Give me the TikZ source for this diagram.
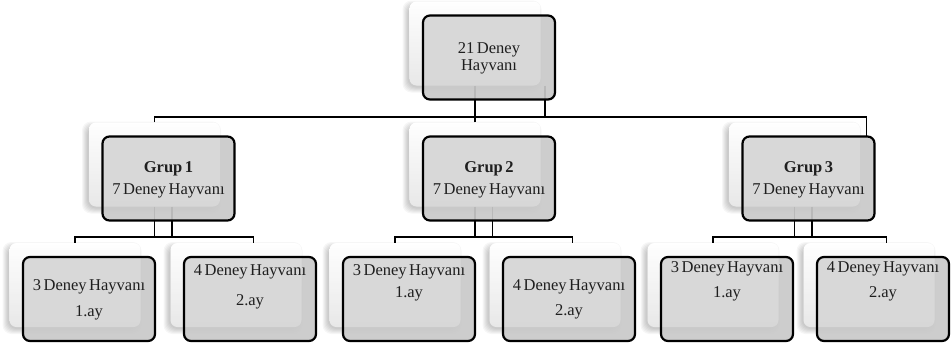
\documentclass[tikz,border=0pt]{standalone}
\usepackage{fontspec}
\setmainfont[WordSpace=0.6]{Liberation Serif}
\usetikzlibrary{calc}
\tikzset{
  shadowring/.style={rounded corners=9pt, minimum width=131pt+#1, minimum height=84pt+#1, inner sep=0pt,
    fill=black, fill opacity=0.035, draw=none},
  backbox/.style={rounded corners=7pt, minimum width=131pt, minimum height=84pt, inner sep=0pt,
    shading=axis, top color=white, bottom color=black!12, draw=none},
  backov/.style={rounded corners=7pt, minimum width=131pt, minimum height=84pt, inner sep=0pt,
    fill=white, fill opacity=0.25, draw=none},
  frontfill/.style={rounded corners=7pt, minimum width=132pt, minimum height=84pt, inner sep=0pt,
    fill=black!21, fill opacity=0.92, draw=none},
  frontline/.style={rounded corners=7pt, minimum width=132pt, minimum height=84pt, inner sep=0pt,
    draw=black, line width=2.2pt},
  conn/.style={line width=1.8pt, draw=black},
  txt/.style={anchor=base, inner sep=0pt, font=\fontsize{16.5}{19}\selectfont, text=black!88},
}
% #1 name, #2 baseline 1, #3 baseline 2, #4 line 1, #5 line 2
\newcommand\twolines[5]{%
  \node[txt] (t#1a) at (f#1 |- 0,#2) {#4};
  \node[txt] (t#1b) at (f#1 |- 0,#3) {#5};
}
\begin{document}
\begin{tikzpicture}[x=1pt,y=-1pt]
\useasboundingbox (0,0) rectangle (951,343);
\fill[white] (0,0) rectangle (951,343);
% soft shadows and back boxes
\foreach \n/\x/\y in {T/475/43.5, 1/154.5/164.5, 2/475/164.5, 3/794.5/164.5,
  1A/75/285, 1B/236/285, 2A/395/285, 2B/555/285, 3A/713/285, 3B/869/285}{
  \foreach \r in {8,6,4,2,0,-2}{
    \node[shadowring=\r pt] (h\n\r) at (\x-3,\y+3) {};
  }
  \node[backbox] (s\n) at (\x,\y) {};
}
% connectors
\coordinate (busT) at (0,117);
\coordinate (busG) at (0,237);
\coordinate (f3top) at (808.5,136);
\draw[conn] (sT.south) -- (sT.south |- busT);
\draw[conn] ([xshift=70pt]sT.south) -- ([xshift=70pt]sT.south |- busT);
\draw[conn] (s1.north) |- ([xshift=58pt]f3top |- busT) -- ([xshift=58pt]f3top);
\draw[conn] (s2.north) -- (s2.north |- busT);
\foreach \g in {1,2,3}{
  \draw[conn] (s\g.south) -- (s\g.south |- busG);
  \draw[conn] ([xshift=17.5pt]s\g.south) -- ([xshift=17.5pt]s\g.south |- busG);
  \draw[conn] (s\g A.north) |- ([xshift=17.5pt]s\g B.north |- busG) -- ([xshift=17.5pt]s\g B.north);
}
% front fills
\foreach \n in {T,1,2,3,1A,1B,2A,2B,3A,3B}{
  \node[frontfill] (f\n) at ($(s\n)+(14,14)$) {};
}
% light overlay where back box overlaps
\foreach \n in {T,1,2,3,1A,1B,2A,2B,3A,3B}{
  \node[backov] (o\n) at (s\n) {};
}
% borders
\foreach \n in {T,1,2,3,1A,1B,2A,2B,3A,3B}{
  \node[frontline] (b\n) at (f\n) {};
}
% texts
\twolines{T}{53.5}{70.5}{21 Deney}{Hayvanı}
\twolines{1}{172}{194}{\textbf{Grup 1}}{7 Deney Hayvanı}
\twolines{2}{172}{194}{\textbf{Grup 2}}{7 Deney Hayvanı}
\twolines{3}{172}{194}{\textbf{Grup 3}}{7 Deney Hayvanı}
\twolines{1A}{290}{316}{3 Deney Hayvanı}{1.ay}
\twolines{1B}{275}{305}{4 Deney Hayvanı}{2.ay}
\twolines{2A}{275}{297}{3 Deney Hayvanı}{1.ay}
\twolines{2B}{290}{315}{4 Deney Hayvanı}{2.ay}
\twolines{3A}{272}{297}{3 Deney Hayvanı}{1.ay}
\twolines{3B}{272}{297}{4 Deney Hayvanı}{2.ay}
\end{tikzpicture}
\end{document}
